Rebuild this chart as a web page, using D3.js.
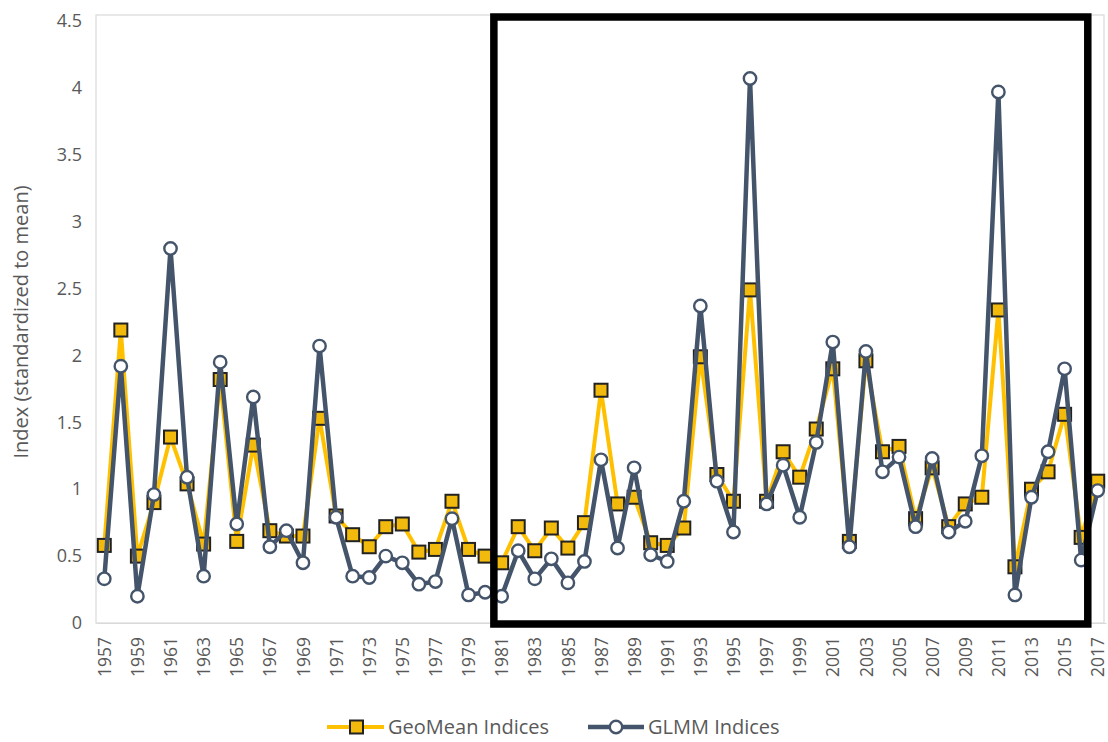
<!DOCTYPE html>
<html>
<head>
<meta charset="utf-8">
<script src="https://cdn.jsdelivr.net/npm/d3@7"></script>
<style>
  html, body { margin: 0; padding: 0; background: #fff; }
  svg { display: block; }
  text { font-family: "Open Sans", "Liberation Sans", sans-serif; }
</style>
</head>
<body>
<svg id="chart" width="1108" height="742"></svg>
<script>
const years = [1957,1958,1959,1960,1961,1962,1963,1964,1965,1966,
  1967,1968,1969,1970,1971,1972,1973,1974,1975,1976,
  1977,1978,1979,1980,1981,1982,1983,1984,1985,1986,
  1987,1988,1989,1990,1991,1992,1993,1994,1995,1996,
  1997,1998,1999,2000,2001,2002,2003,2004,2005,2006,
  2007,2008,2009,2010,2011,2012,2013,2014,2015,2016,2017];

const geoMean = [0.58,2.19,0.50,0.90,1.39,1.04,0.59,1.82,0.61,1.33,
  0.69,0.65,0.65,1.53,0.80,0.66,0.57,0.72,0.74,0.53,
  0.55,0.91,0.55,0.50,0.45,0.72,0.54,0.71,0.56,0.75,
  1.74,0.89,0.94,0.60,0.58,0.71,1.99,1.11,0.91,2.49,
  0.91,1.28,1.09,1.45,1.90,0.61,1.96,1.28,1.32,0.78,
  1.16,0.72,0.89,0.94,2.34,0.42,1.00,1.13,1.56,0.64,1.06];

const glmm = [0.33,1.92,0.20,0.96,2.80,1.09,0.35,1.95,0.74,1.69,
  0.57,0.69,0.45,2.07,0.79,0.35,0.34,0.50,0.45,0.29,
  0.31,0.78,0.21,0.23,0.20,0.54,0.33,0.48,0.30,0.46,
  1.22,0.56,1.16,0.51,0.46,0.91,2.37,1.06,0.68,4.07,
  0.89,1.18,0.79,1.35,2.10,0.57,2.03,1.13,1.24,0.72,
  1.23,0.68,0.76,1.25,3.97,0.21,0.94,1.28,1.90,0.47,0.99];

const yTicks = [0,0.5,1,1.5,2,2.5,3,3.5,4,4.5];
const xTickYears = years.filter((d,i) => i % 2 === 0);
const seriesNames = ["GeoMean Indices", "GLMM Indices"];

const svg = d3.select("#chart");
const pLeft = 96, pRight = 1106, pTop = 21, pBottom = 623;

const x = d3.scalePoint().domain(years).range([pLeft, pRight]).padding(0.5);
const y = d3.scaleLinear().domain([0, 4.5]).range([pBottom, pTop]);

const gold = "#FFC000", goldFill = "#F2BA0C", slate = "#44546A", txt = "#595959";

// plot area border
svg.append("rect")
  .attr("x", pLeft).attr("y", 15)
  .attr("width", pRight - pLeft - 2).attr("height", pBottom - 15)
  .attr("fill", "none").attr("stroke", "#d9d9d9").attr("stroke-width", 1.2);

// y axis
const yAxis = svg.append("g")
  .attr("transform", `translate(${pLeft},0)`)
  .call(d3.axisLeft(y).tickValues(yTicks).tickSize(0).tickPadding(14).tickFormat(d => String(d)));
yAxis.select(".domain").remove();
yAxis.selectAll("text").attr("fill", txt).attr("font-size", 18);

// x axis
const xAxis = svg.append("g")
  .attr("transform", `translate(0,${pBottom})`)
  .call(d3.axisBottom(x).tickValues(xTickYears).tickSize(0).tickPadding(0));
xAxis.select(".domain").attr("stroke", "#d9d9d9").attr("stroke-width", 1.2);
xAxis.selectAll("text")
  .attr("fill", txt).attr("font-size", 17.5)
  .attr("text-anchor", "end")
  .attr("transform", "rotate(-90)")
  .attr("x", -14).attr("y", 0).attr("dy", "0.35em");

// y title
svg.append("text")
  .attr("transform", `translate(23,${(pTop + pBottom) / 2}) rotate(-90)`)
  .attr("text-anchor", "middle").attr("dominant-baseline", "middle")
  .attr("fill", txt).attr("font-size", 20)
  .text("Index (standardized to mean)");

const line = d3.line().x((d,i) => x(years[i])).y(d => y(d));

// GeoMean series
svg.append("path").datum(geoMean)
  .attr("d", line).attr("fill", "none")
  .attr("stroke", gold).attr("stroke-width", 4).attr("stroke-linejoin", "round");
svg.append("g").selectAll("rect").data(geoMean).join("rect")
  .attr("x", (d,i) => x(years[i]) - 6.5).attr("y", d => y(d) - 6.5)
  .attr("width", 13).attr("height", 13)
  .attr("fill", goldFill).attr("stroke", "#222").attr("stroke-width", 2);

// GLMM series
svg.append("path").datum(glmm)
  .attr("d", line).attr("fill", "none")
  .attr("stroke", slate).attr("stroke-width", 4.5).attr("stroke-linejoin", "round");
svg.append("g").selectAll("circle").data(glmm).join("circle")
  .attr("cx", (d,i) => x(years[i])).attr("cy", d => y(d)).attr("r", 6.2)
  .attr("fill", "#fff").attr("stroke", slate).attr("stroke-width", 2.4);

// highlight box
const bx0 = x(1981) - (x(1982) - x(1981)) * 0.47;
const bx1 = x(2016) + (x(2017) - x(2016)) * 0.4;
svg.append("rect")
  .attr("x", bx0).attr("y", 17)
  .attr("width", bx1 - bx0).attr("height", 607)
  .attr("fill", "none").attr("stroke", "#000").attr("stroke-width", 7.5);

// legend
const ly = 727;
const lg1 = svg.append("g");
lg1.append("line").attr("x1", 327).attr("x2", 384).attr("y1", ly).attr("y2", ly)
  .attr("stroke", gold).attr("stroke-width", 4);
lg1.append("rect").attr("x", 350).attr("y", ly - 6.5).attr("width", 13).attr("height", 13)
  .attr("fill", goldFill).attr("stroke", "#222").attr("stroke-width", 2);
lg1.append("text").attr("x", 388).attr("y", ly).attr("dy", "0.35em")
  .attr("fill", txt).attr("font-size", 20).text(seriesNames[0]);

const lg2 = svg.append("g");
lg2.append("line").attr("x1", 588).attr("x2", 644).attr("y1", ly).attr("y2", ly)
  .attr("stroke", slate).attr("stroke-width", 4.5);
lg2.append("circle").attr("cx", 616).attr("cy", ly).attr("r", 6.2)
  .attr("fill", "#fff").attr("stroke", slate).attr("stroke-width", 2.4);
lg2.append("text").attr("x", 648).attr("y", ly).attr("dy", "0.35em")
  .attr("fill", txt).attr("font-size", 20).text(seriesNames[1]);
</script>
</body>
</html>
